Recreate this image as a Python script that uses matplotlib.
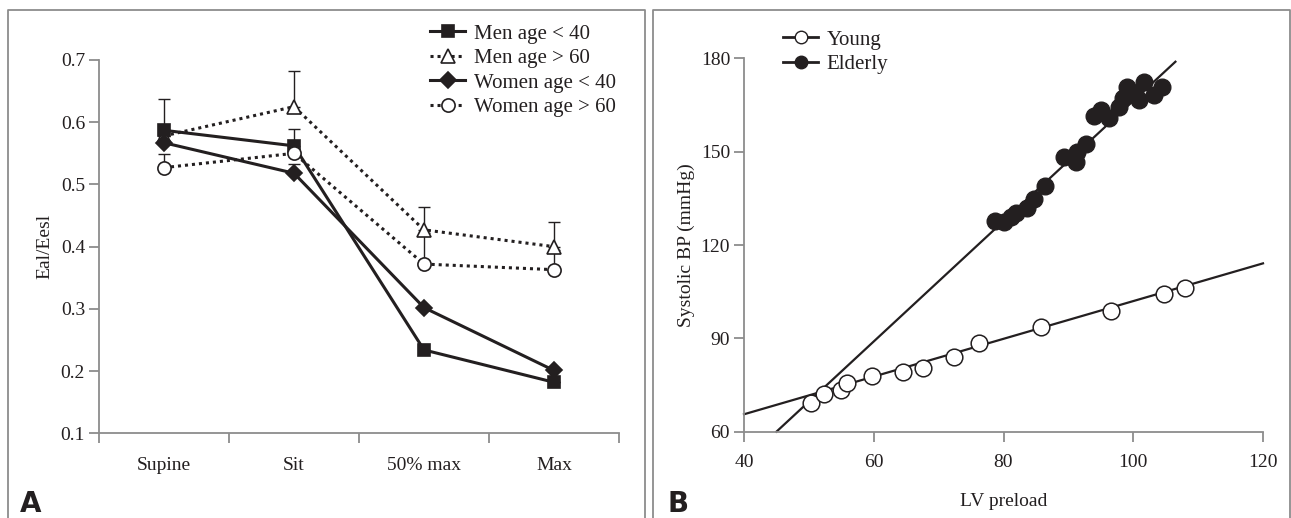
import numpy as np
import matplotlib
matplotlib.use("Agg")
from matplotlib import pyplot as plt
from matplotlib.lines import Line2D

# ---- panel A data: Eal/Eesl by exercise stage
stages = ["Supine", "Sit", "50% max", "Max"]
men_young = [0.587, 0.562, 0.234, 0.182]
men_old = [0.578, 0.625, 0.427, 0.400]
women_young = [0.567, 0.518, 0.302, 0.201]
women_old = [0.527, 0.550, 0.372, 0.363]
# upper error bars only (0 = not visible)
men_young_err = [0.050, 0.027, 0.0, 0.0]
men_old_err = [0.0, 0.058, 0.036, 0.040]
women_young_err = [0.0, 0.015, 0.0, 0.0]
women_old_err = [0.022, 0.0, 0.050, 0.032]

# ---- panel B data: systolic BP vs LV preload
young_x = [50.4, 52.3, 54.9, 55.8, 59.7, 64.5, 67.6, 72.4, 76.3, 85.8, 96.5, 104.7, 107.9]
young_y = [69.3, 72.0, 73.4, 75.8, 78.0, 79.3, 80.4, 84.1, 88.6, 93.8, 98.8, 104.3, 106.3]
elderly_x = [78.7, 80.1, 81.1, 81.9, 83.6, 84.7, 86.4, 89.4, 91.1, 91.3, 92.7, 93.9,
             95.0, 96.2, 97.8, 98.4, 99.0, 100.3, 100.9, 101.6, 103.2, 104.4]
elderly_y = [127.8, 127.5, 129.1, 130.4, 131.8, 134.8, 139.0, 148.4, 146.6, 150.0, 152.5, 161.6,
             163.4, 160.7, 164.5, 167.1, 170.7, 168.8, 166.6, 172.5, 168.2, 170.7]
# regression line end points
young_fit_x = [40, 120]
young_fit_y = [65.6, 114.1]
elderly_fit_x = [45.0, 106.5]
elderly_fit_y = [60.0, 178.9]

W, H = 1291, 518
INK = "#231f20"
AXC = "#8c8c8c"
FS = 14
LFS = 15

plt.rcParams["font.family"] = ["Liberation Serif", "DejaVu Serif"]
fig = plt.figure(figsize=(W / 100, H / 100), dpi=100)


def fx(px):
    return px / W


def fy(py):
    return 1 - py / H


def style_axes(ax):
    for s in ["top", "right"]:
        ax.spines[s].set_visible(False)
    for s in ["left", "bottom"]:
        ax.spines[s].set_color(AXC)
        ax.spines[s].set_linewidth(1.3)
    ax.tick_params(direction="out", length=7, width=1.3, color=AXC,
                   labelsize=FS, labelcolor=INK, pad=3)


# panel frames
for x0, x1 in [(8, 645), (653, 1289.5)]:
    fig.add_artist(Line2D([fx(x0), fx(x0), fx(x1), fx(x1)], [0, fy(10), fy(10), 0],
                          transform=fig.transFigure, color=AXC, lw=1.3))

# ---------------- panel A
axA = fig.add_axes([fx(99), fy(433.3), fx(619) - fx(99), fy(60) - fy(433.3)])
style_axes(axA)
xpos = np.arange(len(stages)) + 0.5

series = [
    (men_old, men_old_err, dict(marker="^", mfc="white", ms=10, ls=(0, (1, 1.3))), "Men age > 60", 3),
    (women_young, women_young_err, dict(marker="D", mfc=INK, ms=8.5, ls="-"), "Women age < 40", 4),
    (men_young, men_young_err, dict(marker="s", mfc=INK, ms=8.5, ls="-"), "Men age < 40", 5),
    (women_old, women_old_err, dict(marker="o", mfc="white", ms=9.5, ls=(0, (1, 1.3))), "Women age > 60", 6),
]
handles = {}
for vals, err, kw, lab, z in series:
    axA.errorbar(xpos, vals, yerr=[np.zeros(len(err)), err], fmt="none",
                 ecolor=INK, elinewidth=1, capsize=4, capthick=1, zorder=1)
    ln, = axA.plot(xpos, vals, color=INK, lw=2.2, mec=INK, mew=1.2, zorder=z,
                   clip_on=False, **kw)
    handles[lab] = ln

axA.set_xlim(0, 4)
axA.set_ylim(0.1, 0.7)
axA.set_xticks([0, 1, 2, 3, 4])
axA.set_xticklabels([])
axA.set_xticks(xpos, minor=True)
axA.set_xticklabels(stages, minor=True)
axA.tick_params(axis="x", which="minor", length=0, labelsize=FS, labelcolor=INK, pad=17)
axA.set_yticks([0.1, 0.2, 0.3, 0.4, 0.5, 0.6, 0.7])
axA.set_yticklabels(["0.1", "0.2", "0.3", "0.4", "0.5", "0.6", "0.7"])
axA.set_ylabel("Eal/Eesl", fontsize=FS, color=INK, labelpad=5)

order = ["Men age < 40", "Men age > 60", "Women age < 40", "Women age > 60"]
fig.legend([handles[k] for k in order], order, loc="upper left",
           bbox_to_anchor=(fx(430), fy(24)), frameon=False, fontsize=LFS,
           borderpad=0, borderaxespad=0, handlelength=1.7, handletextpad=0.4,
           labelspacing=0.24, labelcolor=INK)

fig.text(fx(20), fy(512), "A", fontsize=20, fontweight="bold", color=INK,
         family=["Liberation Sans Narrow", "DejaVu Sans"], ha="left", va="baseline")

# ---------------- panel B
axB = fig.add_axes([fx(744), fy(431.7), fx(1263) - fx(744), fy(58.3) - fy(431.7)])
style_axes(axB)
axB.plot(young_fit_x, young_fit_y, color=INK, lw=1.6, zorder=2, clip_on=False)
axB.plot(elderly_fit_x, elderly_fit_y, color=INK, lw=1.6, zorder=2, clip_on=False)
hy, = axB.plot(young_x, young_y, "o", ms=12, mfc="white", mec=INK, mew=1.1, zorder=3)
he, = axB.plot(elderly_x, elderly_y, "o", ms=12, mfc=INK, mec=INK, mew=1, zorder=3)
axB.set_xlim(40, 120)
axB.set_ylim(60, 180)
axB.set_xticks([40, 60, 80, 100, 120])
axB.set_yticks([60, 90, 120, 150, 180])
axB.tick_params(axis="x", pad=9)
axB.set_xlabel("LV preload", fontsize=FS, color=INK, labelpad=16)
axB.set_ylabel("Systolic BP (mmHg)", fontsize=FS, color=INK, labelpad=4)

leg_y = Line2D([], [], color=INK, lw=2, marker="o", ms=9, mfc="white", mec=INK)
leg_e = Line2D([], [], color=INK, lw=2, marker="o", ms=9, mfc=INK, mec=INK)
fig.legend([leg_y, leg_e], ["Young", "Elderly"], loc="upper left",
           bbox_to_anchor=(fx(783), fy(30)), frameon=False, fontsize=LFS,
           borderpad=0, borderaxespad=0, handlelength=1.7, handletextpad=0.4,
           labelspacing=0.24, labelcolor=INK)

fig.text(fx(668), fy(512), "B", fontsize=20, fontweight="bold", color=INK,
         family=["Liberation Sans Narrow", "DejaVu Sans"], ha="left", va="baseline")

fig.savefig("out.png", dpi=100, facecolor="white")
